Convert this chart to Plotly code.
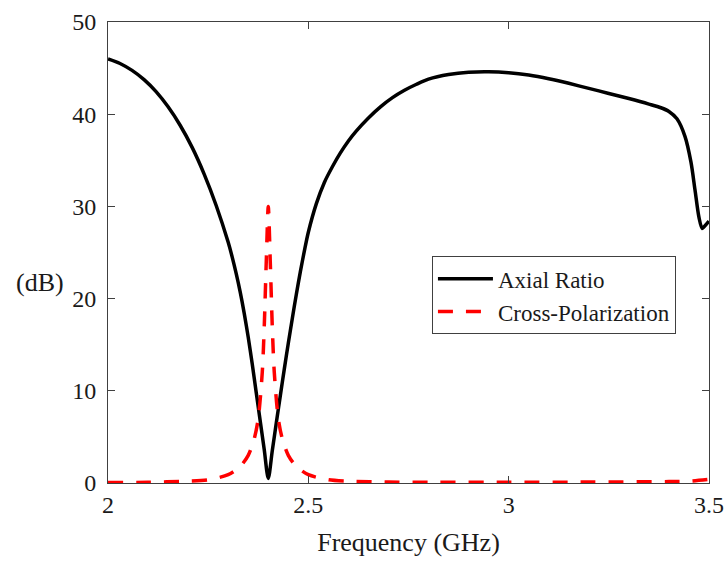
import plotly.graph_objects as go

# Axial ratio (dB) versus frequency (GHz)
ar_freq = [2.00, 2.03, 2.06, 2.09, 2.12, 2.15, 2.18, 2.21, 2.24, 2.27,
           2.30, 2.31, 2.32, 2.33, 2.34, 2.35, 2.36, 2.37, 2.38, 2.39,
           2.40,
           2.41, 2.42, 2.43, 2.44, 2.45, 2.46, 2.47, 2.48, 2.49, 2.50,
           2.52, 2.54, 2.56, 2.58, 2.60, 2.62, 2.65, 2.68, 2.71, 2.74,
           2.77, 2.80, 2.85, 2.90, 2.95, 3.00, 3.05, 3.10, 3.15, 3.20,
           3.25, 3.30, 3.35, 3.38, 3.40, 3.42, 3.44, 3.455, 3.465, 3.475,
           3.483, 3.49, 3.50]
ar_db = [46.0, 45.5, 44.75, 43.75, 42.45, 40.8, 38.8, 36.4, 33.5, 30.1,
         26.1, 24.5, 22.7, 20.7, 18.4, 15.8, 12.9, 9.8, 6.7, 3.6,
         0.5,
         3.5, 6.5, 9.45, 12.35, 15.15, 17.85, 20.45, 22.9, 25.15, 27.2,
         30.3, 32.6, 34.3, 35.8, 37.1, 38.2, 39.6, 40.8, 41.8, 42.6,
         43.25, 43.8, 44.3, 44.55, 44.6, 44.5, 44.25, 43.85, 43.35, 42.8,
         42.25, 41.7, 41.1, 40.7, 40.3, 39.5, 37.6, 34.8, 31.8, 28.8,
         27.6, 27.9, 28.4]

# Cross-polarization level (dB) versus frequency (GHz)
xp_freq = [2.000, 2.100, 2.200, 2.250, 2.300, 2.330, 2.350, 2.365, 2.375, 2.385,
           2.390, 2.395, 2.400, 2.405, 2.410, 2.415, 2.425, 2.435, 2.450, 2.470,
           2.500, 2.550, 2.600, 2.700, 2.800, 3.000, 3.200, 3.400, 3.450, 3.500]
xp_db = [0.05, 0.08, 0.2, 0.35, 0.9, 1.8, 3.0, 4.8, 7.0, 12.0,
         17.0, 24.0, 30.0, 24.0, 17.0, 12.0, 7.0, 4.8, 3.0, 1.8,
         0.9, 0.35, 0.2, 0.1, 0.08, 0.08, 0.1, 0.15, 0.2, 0.4]

x_ticks = [2, 2.5, 3, 3.5]
x_tick_text = ["2", "2.5", "3", "3.5"]
y_ticks = [0, 10, 20, 30, 40, 50]

FONT = "Liberation Serif"
TXT = "#1a1a1a"
AX = "#404040"

fig = go.Figure()
fig.add_trace(go.Scatter(
    x=ar_freq, y=ar_db, mode="lines", name="Axial Ratio",
    line=dict(color="black", width=3.5, shape="spline", smoothing=0.8),
))
fig.add_trace(go.Scatter(
    x=xp_freq, y=xp_db, mode="lines", name="Cross-Polarization",
    line=dict(color="#ff0000", width=3.5, dash="15px,13px", shape="spline", smoothing=0.8),
))

axis_common = dict(
    showline=True, linecolor=AX, linewidth=1, mirror="ticks",
    ticks="inside", ticklen=7, tickcolor=AX, tickwidth=1,
    showgrid=False, zeroline=False, automargin=False,
    tickfont=dict(family=FONT, size=24, color=TXT),
)

fig.update_layout(
    width=725, height=561,
    margin=dict(l=108, r=16, t=22, b=78),
    paper_bgcolor="white", plot_bgcolor="white",
    font=dict(family=FONT, color=TXT),
    xaxis=dict(
        range=[2, 3.5], tickvals=x_ticks, ticktext=x_tick_text,
        ticklabelstandoff=0,
        title=dict(text="Frequency (GHz)", font=dict(family=FONT, size=26, color=TXT), standoff=16),
        **axis_common,
    ),
    yaxis=dict(
        range=[0, 50], tickvals=y_ticks,
        ticklabelstandoff=6,
        **axis_common,
    ),
    legend=dict(
        x=0.539, y=0.492, xanchor="left", yanchor="top",
        bgcolor="white", bordercolor=AX, borderwidth=1,
        font=dict(family=FONT, size=23, color=TXT),
        itemwidth=55, tracegroupgap=0,
    ),
    showlegend=True,
    annotations=[dict(
        text="(dB)", xref="paper", yref="paper",
        x=-0.113, y=0.436, xanchor="center", yanchor="middle",
        showarrow=False, font=dict(family=FONT, size=26, color=TXT),
    )],
)

fig.write_html("out.html")
